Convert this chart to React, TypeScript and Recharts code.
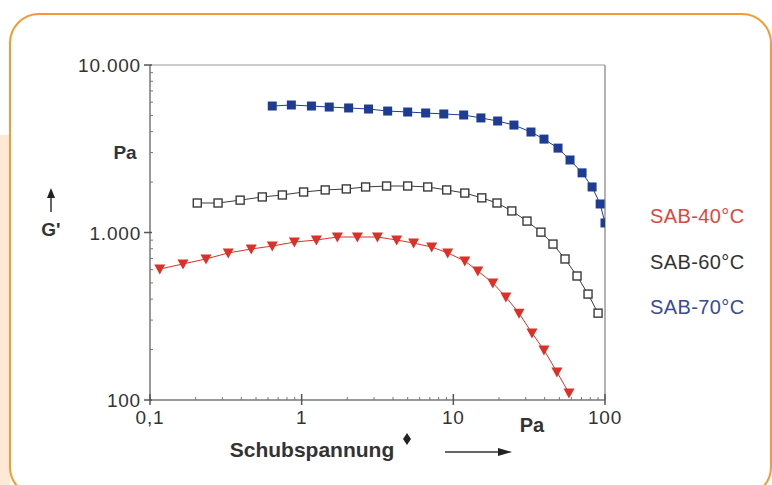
import React from 'react';
import { ScatterChart, Scatter, XAxis, YAxis, ReferenceLine } from 'recharts';

// Schubspannung (Pa) and G' (Pa)
const sab40X = [0.116, 0.165, 0.234, 0.328, 0.465, 0.64, 0.895, 1.25, 1.72, 2.33, 3.16, 4.23, 5.47, 7.2, 9.18, 11.9, 14.5, 18.2, 22.2, 27.1, 33.0, 39.6, 48.2, 57.9];
const sab40Y = [605, 649, 695, 755, 797, 830, 877, 902, 940, 940, 940, 902, 865, 819, 755, 676, 589, 500, 412, 330, 251, 199, 147, 110];

const sab60X = [0.205, 0.281, 0.393, 0.55, 0.746, 1.03, 1.43, 1.97, 2.64, 3.63, 5.0, 6.78, 9.04, 11.9, 15.4, 19.4, 24.3, 30.6, 37.8, 45.4, 54.5, 65.4, 77.3, 90.0];
const sab60Y = [1500, 1500, 1560, 1630, 1675, 1745, 1795, 1820, 1870, 1895, 1895, 1870, 1795, 1720, 1610, 1500, 1345, 1170, 1005, 853, 695, 550, 429, 330];

const sab70X = [0.64, 0.855, 1.16, 1.52, 2.04, 2.76, 3.69, 5.0, 6.57, 8.65, 11.7, 15.2, 19.6, 25.1, 32.5, 39.6, 49.0, 58.8, 70.6, 82.2, 92.9, 100];
const sab70Y = [5690, 5770, 5690, 5610, 5540, 5460, 5310, 5240, 5170, 5100, 5030, 4830, 4630, 4380, 3980, 3610, 3190, 2710, 2270, 1870, 1480, 1140];

const xMajor = [0.1, 1, 10, 100];
const xLabels = ['0,1', '1', '10', '100'];
const yMajor = [100, 1000, 10000];
const yLabels = ['100', '1.000', '10.000'];

const xTicks = [0.1, 0.2, 0.3, 0.4, 0.5, 0.6, 0.7, 0.8, 0.9, 1, 2, 3, 4, 5, 6, 7, 8, 9, 10, 20, 30, 40, 50, 60, 70, 80, 90, 100];
const yTicks = [100, 200, 300, 400, 500, 600, 700, 800, 900, 1000, 2000, 3000, 4000, 5000, 6000, 7000, 8000, 9000, 10000];

const zip = (xs: number[], ys: number[]) => xs.map((x, i) => ({ x, y: ys[i] }));

const RED = '#dc3128';
const GREY = '#3a3a3a';
const BLUE = '#1f3c94';
const FONT = '"Liberation Sans", Arial, sans-serif';

function XTick(props: any) {
  const { x, y, payload } = props;
  const i = xMajor.indexOf(payload.value);
  if (i < 0) return <line x1={x} x2={x} y1={y - 3} y2={y} stroke="#777" strokeWidth={1} />;
  return (
    <g>
      <line x1={x} x2={x} y1={y - 6} y2={y + 5} stroke="#555" strokeWidth={1.5} />
      <text x={x} y={y + 24} textAnchor="middle" fill="#333" fontSize={19} letterSpacing={0.8} fontFamily={FONT}>{xLabels[i]}</text>
    </g>
  );
}

function YTick(props: any) {
  const { x, y, payload } = props;
  const i = yMajor.indexOf(payload.value);
  if (i < 0) return <line x1={x} x2={x + 3} y1={y} y2={y} stroke="#777" strokeWidth={1} />;
  return (
    <g>
      <line x1={x - 6} x2={x + 2} y1={y} y2={y} stroke="#555" strokeWidth={1.5} />
      <text x={x - 9} y={y + 7} textAnchor="end" fill="#333" fontSize={19} letterSpacing={0.8} fontFamily={FONT}>{yLabels[i]}</text>
    </g>
  );
}

function TriDown(props: any) {
  const { cx, cy } = props;
  const s = 5.5;
  return <path d={`M${cx - s},${cy - s + 1}L${cx + s},${cy - s + 1}L${cx},${cy + s}Z`} fill={RED} />;
}

function FilledSquare(props: any) {
  const { cx, cy } = props;
  return <rect x={cx - 4.5} y={cy - 4.5} width={9} height={9} fill={BLUE} />;
}

function OpenSquare(props: any) {
  const { cx, cy } = props;
  return <rect x={cx - 4} y={cy - 4} width={8} height={8} fill="#fff" stroke={GREY} strokeWidth={1.4} />;
}

export default function App() {
  return (
    <div style={{ position: 'fixed', left: 0, top: 0, width: 772, height: 485, background: '#fff', overflow: 'hidden', fontFamily: FONT }}>
      <div style={{ position: 'absolute', left: 0, top: 135, width: 10, height: 360, background: '#fde9d6' }} />
      <div style={{ position: 'absolute', left: 9, top: 13, width: 759, height: 480, border: '2px solid #f59a30', borderRadius: 30 }} />
      <ScatterChart width={772} height={485} margin={{ top: 65, right: 167, bottom: 55, left: 90 }} style={{ position: 'absolute', left: 0, top: 0 }}>
        <XAxis type="number" dataKey="x" scale="log" domain={[0.1, 100]} ticks={xTicks} interval={0}
          allowDataOverflow height={30} tickSize={0} tickMargin={0} tickLine={false}
          axisLine={{ stroke: '#777', strokeWidth: 1.5 }} tick={<XTick />} />
        <YAxis type="number" dataKey="y" scale="log" domain={[100, 10000]} ticks={yTicks} interval={0}
          allowDataOverflow width={60} tickSize={0} tickMargin={0} tickLine={false}
          axisLine={{ stroke: '#777', strokeWidth: 1.5 }} tick={<YTick />} />
        <ReferenceLine y={10000} stroke="#bbb" strokeWidth={1.5} />
        <ReferenceLine x={100} stroke="#999" strokeWidth={1.5} />
        <Scatter data={zip(sab60X, sab60Y)} line={{ stroke: GREY, strokeWidth: 1 }} shape={<OpenSquare />} isAnimationActive={false} />
        <Scatter data={zip(sab40X, sab40Y)} line={{ stroke: RED, strokeWidth: 1 }} shape={<TriDown />} isAnimationActive={false} />
        <Scatter data={zip(sab70X, sab70Y)} line={{ stroke: BLUE, strokeWidth: 1 }} shape={<FilledSquare />} isAnimationActive={false} />
      </ScatterChart>
      <svg width={772} height={485} style={{ position: 'absolute', left: 0, top: 0, pointerEvents: 'none' }}>
        <text x={125} y={159} textAnchor="middle" fontSize={19} fontWeight="bold" fill="#333" fontFamily={FONT}>Pa</text>
        <line x1={51} x2={51} y1={212} y2={196} stroke="#333" strokeWidth={1.5} />
        <path d="M47,198L51,188L55,198Z" fill="#222" />
        <text x={51} y={236} textAnchor="middle" fontSize={19} fontWeight="bold" fill="#333" fontFamily={FONT}>G'</text>
        <text x={532} y={432} textAnchor="middle" fontSize={20} fontWeight="bold" fill="#333" fontFamily={FONT}>Pa</text>
        <text x={312} y={457} textAnchor="middle" fontSize={21} fontWeight="bold" fill="#333" fontFamily={FONT}>Schubspannung</text>
        <path d="M407,433L411,439L407,445L403,439Z" fill="#222" />
        <line x1={445} x2={500} y1={452} y2={452} stroke="#333" strokeWidth={1.5} />
        <path d="M498,448L512,452L498,456Z" fill="#222" />
        <text x={650} y={223} fontSize={20} letterSpacing={0.4} fill="#e0473c" fontFamily={FONT}>SAB-40°C</text>
        <text x={650} y={269} fontSize={20} letterSpacing={0.4} fill="#333" fontFamily={FONT}>SAB-60°C</text>
        <text x={650} y={314} fontSize={20} letterSpacing={0.4} fill="#3a4a95" fontFamily={FONT}>SAB-70°C</text>
      </svg>
    </div>
  );
}
